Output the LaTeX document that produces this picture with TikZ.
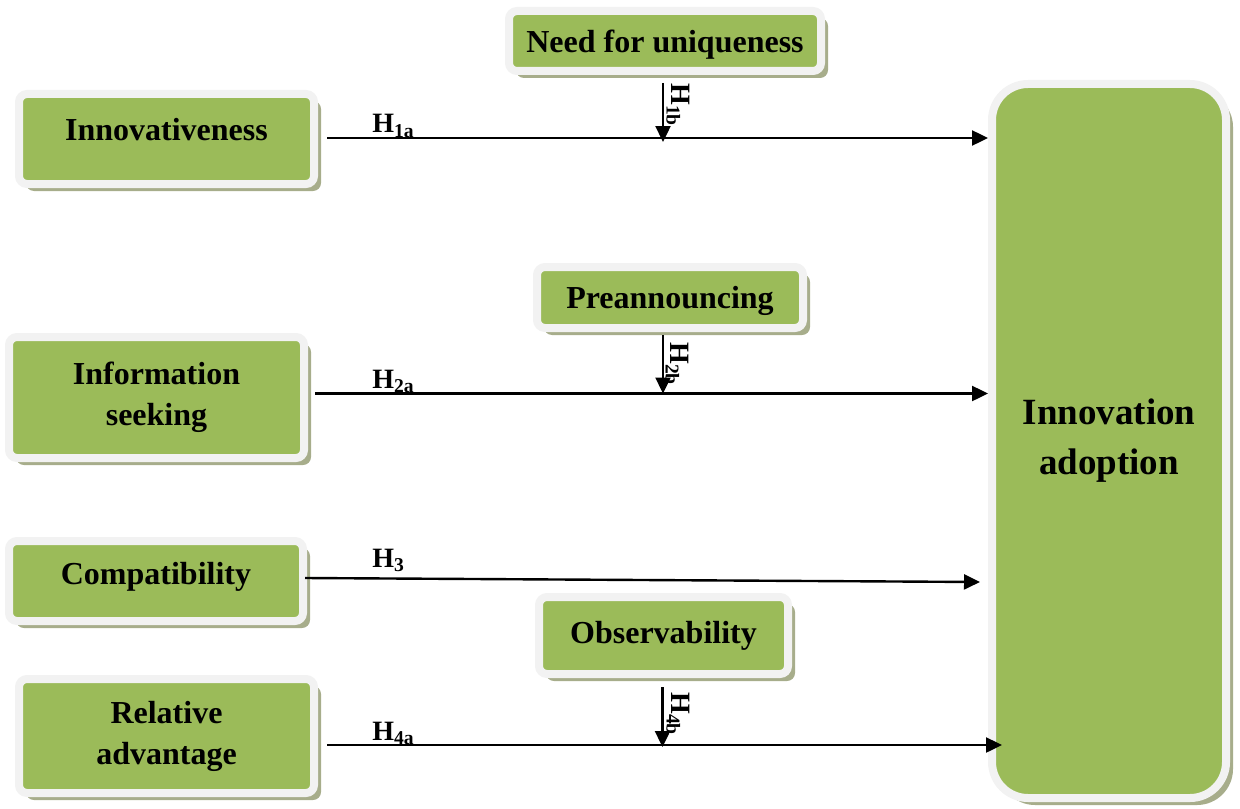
\documentclass[tikz,border=0pt]{standalone}
\usepackage{fontspec}
\setmainfont{Liberation Serif}
\usepackage{tikz}
\usetikzlibrary{arrows.meta,shadows}

\definecolor{boxgreen}{HTML}{9BBB59}
\definecolor{framegray}{HTML}{F2F2F2}
\definecolor{shadowgreen}{HTML}{A7AD8B}

\tikzset{
  factor/.style={draw=framegray, line width=4pt, fill=boxgreen, rounded corners=4pt,
    inner sep=0pt, align=center, font=\fontsize{16}{20.5}\selectfont\bfseries,
    drop shadow={shadow xshift=3.5pt, shadow yshift=-3.5pt, fill=shadowgreen, opacity=1}},
  oneline/.style={text height=0.7em, text depth=0.55em},
  hyp/.style={line width=1.2pt, -{Triangle[length=8pt,width=7.5pt]}},
  hlabel/.style={anchor=base west, inner sep=0pt, font=\fontsize{14}{17}\selectfont\bfseries}
}

\begin{document}
\begin{tikzpicture}[x=0.5pt,y=-0.5pt]
    \useasboundingbox (0,0) rectangle (1240,808);

    % Antecedents
    \node[factor,oneline,minimum width=147.5pt,minimum height=45pt] (innov) at (166.5,139) {Innovativeness};
    \node[factor,minimum width=147.5pt,minimum height=60.5pt] (info) at (156.5,397.5) {Information\\seeking};
    \node[factor,oneline,text depth=0.4em,minimum width=147pt,minimum height=40pt] (compat) at (156,581) {Compatibility};
    \node[factor,minimum width=147.5pt,minimum height=57pt] (relat) at (166.5,736) {Relative\\advantage};

    % Moderators
    \node[factor,text depth=0pt,minimum width=156pt,minimum height=30pt] (uniq) at (665,41) {Need for uniqueness};
    \node[factor,text depth=0pt,minimum width=133pt,minimum height=30.5pt] (preann) at (670,297.5) {Preannouncing};
    \node[factor,minimum width=124.5pt,minimum height=38.5pt] (observ) at (663.5,635.5) {Observability};

    % Outcome
    \node[factor,rounded corners=18pt,minimum width=117pt,minimum height=357pt,
          font=\fontsize{18.5}{25}\selectfont\bfseries] (adopt) at (1109,441) {Innovation\\adoption};

    % Direct effects
    \draw[hyp] ([xshift=4.5pt,yshift=0.5pt]innov.east) coordinate (s1) -- (s1 -| adopt.west);
    \draw[hyp] ([xshift=3.5pt,yshift=2pt]info.east) coordinate (s2) -- (s2 -| adopt.west);
    \draw[hyp] ([xshift=-1pt,yshift=1.5pt]compat.east) coordinate (s3) -- ([xshift=-4pt,yshift=-0.5pt]adopt.west |- compat.east);
    \draw[hyp] ([xshift=4.5pt,yshift=-4.5pt]relat.east) coordinate (s4) -- ([xshift=7pt]s4 -| adopt.west);

    % Moderating effects
    \draw[hyp] ([xshift=-1pt,yshift=-4pt]uniq.south) coordinate (m1) -- ([yshift=-2pt]m1 |- s1);
    \draw[hyp] ([xshift=-3.5pt,yshift=-1.5pt]preann.south) coordinate (m2) -- (m2 |- s2);
    \draw[hyp] ([xshift=-0.5pt,yshift=-4.5pt]observ.south) coordinate (m4) -- ([yshift=-1pt]m4 |- s4);

    % Hypothesis labels
    \node[hlabel] (h1a) at (372,133) {H\textsubscript{1a}};
    \node[hlabel] (h2a) at (372,388) {H\textsubscript{2a}};
    \node[hlabel] (h3) at (372,567) {H\textsubscript{3}};
    \node[hlabel] (h4a) at (372,740) {H\textsubscript{4a}};
    \node[hlabel,rotate=-90] (h1b) at (671,83) {H\textsubscript{1b}};
    \node[hlabel,rotate=-90] (h2b) at (670,342) {H\textsubscript{2b}};
    \node[hlabel,rotate=-90] (h4b) at (671,692) {H\textsubscript{4b}};
\end{tikzpicture}
\end{document}
